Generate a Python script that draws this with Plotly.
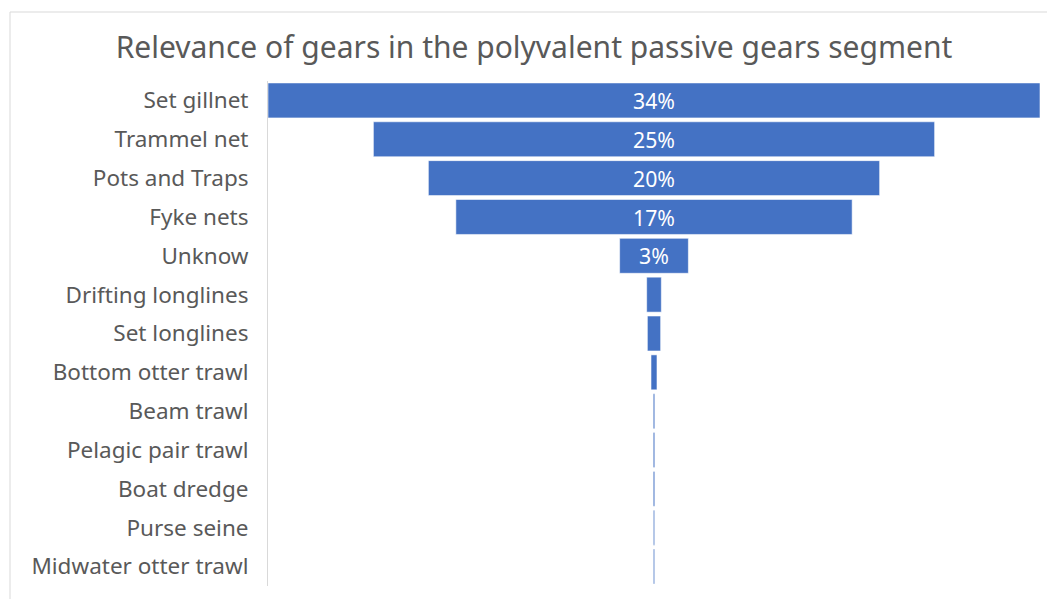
import plotly.graph_objects as go

categories = ["Set gillnet", "Trammel net", "Pots and Traps", "Fyke nets", "Unknow",
              "Drifting longlines", "Set longlines", "Bottom otter trawl", "Beam trawl",
              "Pelagic pair trawl", "Boat dredge", "Purse seine", "Midwater otter trawl"]
values = [33.7, 24.5, 19.7, 17.3, 3.0, 0.64, 0.58, 0.26, 0.07, 0.07, 0.07, 0.06, 0.06]
labels = ["34%", "25%", "20%", "17%", "3%", "", "", "", "", "", "", "", ""]

W, H = 1047, 599
L, R, T, B = 268, 7, 81, 13
pw, ph = W - L - R, H - T - B

fig = go.Figure(go.Funnel(
    y=categories,
    x=values,
    text=labels,
    textinfo="text",
    textposition="inside",
    insidetextfont=dict(color="white", size=22, family="Noto Sans"),
    marker=dict(color="#4472C4", line=dict(color="rgba(255,255,255,0.55)", width=1)),
    connector=dict(visible=False),
    hoverinfo="skip",
))

fig.update_layout(
    width=W, height=H,
    margin=dict(l=L, r=R, t=T, b=B),
    paper_bgcolor="white", plot_bgcolor="white",
    title=dict(text="Relevance of gears in the polyvalent passive gears segment",
               x=534 / W, xanchor="center", y=1 - 47 / H, yanchor="middle",
               font=dict(family="Noto Sans", size=30, color="#595959")),
    funnelgap=0.1,
    showlegend=False,
    xaxis=dict(visible=False, range=[-values[0] / 2, values[0] / 2], fixedrange=True),
    yaxis=dict(showline=True, linecolor="#d9d9d9", linewidth=1, ticks="",
               tickfont=dict(family="Noto Sans", size=22.5, color="#595959"),
               ticklabelstandoff=14, showgrid=False),
    shapes=[dict(type="rect", xref="paper", yref="paper",
                 x0=(10 - L) / pw, x1=(W + 20 - L) / pw,
                 y0=-(B + 20) / ph, y1=1 + (T - 12) / ph,
                 line=dict(color="#d9d9d9", width=1), layer="below")],
)

fig.write_html("out.html")
